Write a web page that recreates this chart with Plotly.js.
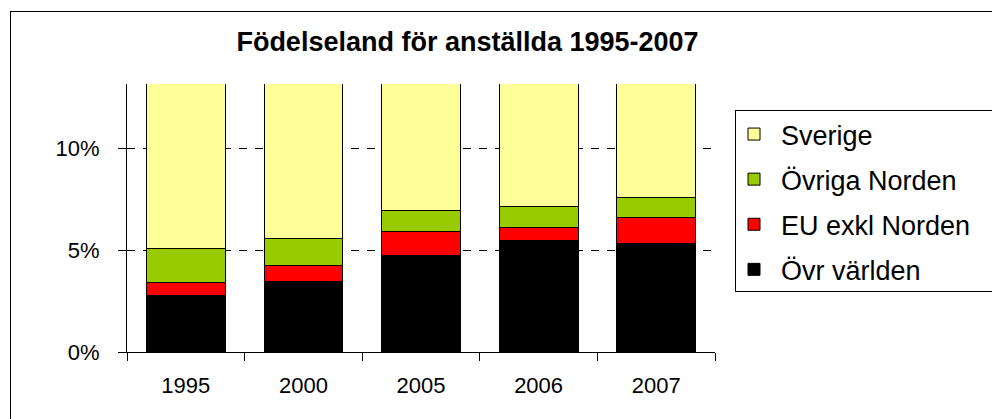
<!DOCTYPE html>
<html>
<head>
<meta charset="utf-8">
<script src="https://cdn.plot.ly/plotly-3.0.1.min.js"></script>
<style>
  html, body { margin: 0; padding: 0; background: #ffffff; overflow: hidden; width: 992px; height: 419px; }
  #wrap { position: relative; width: 992px; height: 419px; overflow: hidden; }
  #chart { position: absolute; left: 0; top: 0; width: 992px; height: 419px; }
  /* open-ended frames: outer chart frame and legend box */
  .frame { position: absolute; pointer-events: none; box-sizing: border-box; }
  #outer { left: 10px; top: 11px; width: 1200px; height: 600px; border-left: 1px solid #000; border-top: 1px solid #000; }
  #legbox { left: 735px; top: 110px; width: 400px; height: 182px; border: 1px solid #000; }
</style>
</head>
<body>
<div id="wrap">
  <div id="chart"></div>
  <div class="frame" id="outer"></div>
  <div class="frame" id="legbox"></div>
</div>
<script>
// Andel anställda per födelseland, procent
const years = ['1995', '2000', '2005', '2006', '2007'];
const ovrVarlden = [2.79, 3.46, 4.74, 5.49, 5.31];
const euExklNorden = [0.64, 0.80, 1.18, 0.63, 1.27];
const ovrigaNorden = [1.65, 1.30, 1.03, 1.01, 1.01];
const sverige = [94.92, 94.44, 93.05, 92.87, 92.41];

const seriesNames = ['Övr världen', 'EU exkl Norden', 'Övriga Norden', 'Sverige'];
const seriesColors = ['#000000', '#ff0000', '#99cc00', '#ffff99'];
const seriesValues = [ovrVarlden, euExklNorden, ovrigaNorden, sverige];

const W = 992, H = 419;
const M = { l: 127, r: 277, t: 84, b: 67 };
const plotW = W - M.l - M.r;
const plotH = H - M.t - M.b;
// pixel position -> paper coordinates (legend placement)
const px = x => (x - M.l) / plotW;
const py = y => (H - M.b - y) / plotH;

const FONT = 'Liberation Sans, Arial, sans-serif';

// stacked from the bottom up; legend lists the top series first
const traces = seriesNames.map((name, i) => ({
  type: 'bar',
  name: name,
  legendgroup: 'g' + i,
  legendrank: seriesNames.length - i,
  x: years,
  y: seriesValues[i],
  width: 0.67,
  marker: { color: seriesColors[i], line: { color: '#000000', width: 1 } },
  hoverinfo: 'skip'
}));

const layout = {
  width: W,
  height: H,
  margin: M,
  paper_bgcolor: 'rgba(0,0,0,0)',
  plot_bgcolor: '#ffffff',
  barmode: 'stack',
  font: { family: FONT, color: '#000000' },
  title: {
    text: '<b>Födelseland för anställda 1995-2007</b>',
    font: { family: FONT, size: 27, color: '#000000' },
    xref: 'container', yref: 'container',
    x: 467.5 / W, xanchor: 'center',
    y: 1 - 41.5 / H, yanchor: 'middle'
  },
  xaxis: {
    type: 'category',
    showline: true, linecolor: '#000000', linewidth: 1,
    ticks: 'outside', ticklen: 8, tickcolor: '#000000', tickwidth: 1,
    tickson: 'boundaries',
    showgrid: false, zeroline: false,
    tickfont: { family: FONT, size: 22, color: '#000000' },
    ticklabelstandoff: 14
  },
  yaxis: {
    range: [0, 13.15],
    tickvals: [0, 5, 10],
    ticktext: ['0%', '5%', '10%'],
    showline: true, linecolor: '#000000', linewidth: 1,
    ticks: 'outside', ticklen: 8, tickcolor: '#000000', tickwidth: 1,
    showgrid: true, gridcolor: '#000000', gridwidth: 1, griddash: '8px,8px',
    zeroline: false,
    tickfont: { family: FONT, size: 22, color: '#000000' },
    ticklabelstandoff: 14
  },
  showlegend: true,
  legend: {
    traceorder: 'grouped',
    tracegroupgap: 7,
    x: px(727), xanchor: 'left',
    y: py(110), yanchor: 'top',
    bgcolor: 'rgba(0,0,0,0)',
    borderwidth: 0,
    itemwidth: 44,
    font: { family: FONT, size: 27, color: '#000000' }
  }
};

Plotly.newPlot('chart', traces, layout, { staticPlot: true, displayModeBar: false });
</script>
</body>
</html>
